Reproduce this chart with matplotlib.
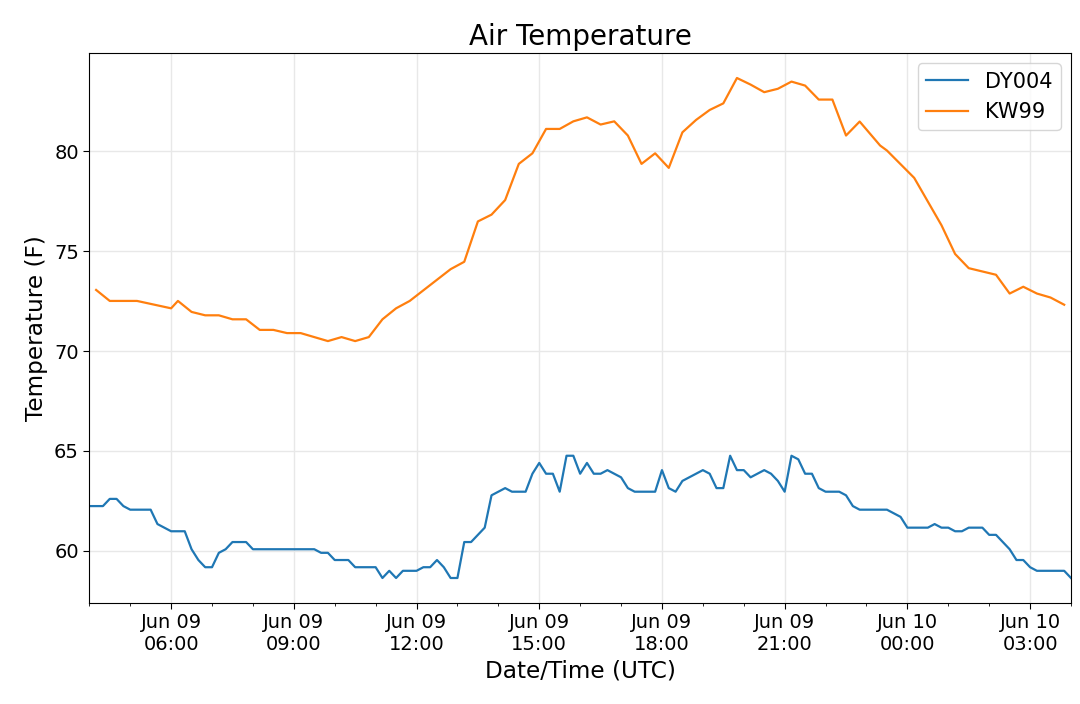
import matplotlib
matplotlib.use("Agg")
import matplotlib.pyplot as plt
import matplotlib.dates as mdates
import pandas as pd

# DY004: 10-minute samples from Jun 09 04:00 to Jun 10 04:00 (UTC)
dy_start = "2019-06-09 04:00"
dy_temps = [
    62.24, 62.24, 62.24, 62.60, 62.60, 62.24, 62.06, 62.06, 62.06, 62.06,
    61.34, 61.16, 60.98, 60.98, 60.98, 60.08, 59.54, 59.18, 59.18, 59.90,
    60.08, 60.44, 60.44, 60.44, 60.08, 60.08, 60.08, 60.08, 60.08, 60.08,
    60.08, 60.08, 60.08, 60.08, 59.90, 59.90, 59.54, 59.54, 59.54, 59.18,
    59.18, 59.18, 59.18, 58.64, 59.00, 58.64, 59.00, 59.00, 59.00, 59.18,
    59.18, 59.54, 59.18, 58.64, 58.64, 60.44, 60.44, 60.80, 61.16, 62.78,
    62.96, 63.14, 62.96, 62.96, 62.96, 63.86, 64.40, 63.86, 63.86, 62.96,
    64.76, 64.76, 63.86, 64.40, 63.86, 63.86, 64.04, 63.86, 63.68, 63.14,
    62.96, 62.96, 62.96, 62.96, 64.04, 63.14, 62.96, 63.50, 63.68, 63.86,
    64.04, 63.86, 63.14, 63.14, 64.76, 64.04, 64.04, 63.68, 63.86, 64.04,
    63.86, 63.50, 62.96, 64.76, 64.58, 63.86, 63.86, 63.14, 62.96, 62.96,
    62.96, 62.78, 62.24, 62.06, 62.06, 62.06, 62.06, 62.06, 61.88, 61.70,
    61.16, 61.16, 61.16, 61.16, 61.34, 61.16, 61.16, 60.98, 60.98, 61.16,
    61.16, 61.16, 60.80, 60.80, 60.44, 60.08, 59.54, 59.54, 59.18, 59.00,
    59.00, 59.00, 59.00, 59.00, 58.64,
]

# KW99: irregular observation times
kw_times = [
    "2019-06-09 04:10", "2019-06-09 04:30", "2019-06-09 04:50", "2019-06-09 05:10",
    "2019-06-09 06:00", "2019-06-09 06:10", "2019-06-09 06:30", "2019-06-09 06:50",
    "2019-06-09 07:10", "2019-06-09 07:30", "2019-06-09 07:50", "2019-06-09 08:10",
    "2019-06-09 08:30", "2019-06-09 08:50", "2019-06-09 09:10", "2019-06-09 09:50",
    "2019-06-09 10:10", "2019-06-09 10:30", "2019-06-09 10:50", "2019-06-09 11:10",
    "2019-06-09 11:30", "2019-06-09 11:50", "2019-06-09 12:50", "2019-06-09 13:10",
    "2019-06-09 13:30", "2019-06-09 13:50", "2019-06-09 14:10", "2019-06-09 14:30",
    "2019-06-09 14:50", "2019-06-09 15:10", "2019-06-09 15:30", "2019-06-09 15:50",
    "2019-06-09 16:10", "2019-06-09 16:30", "2019-06-09 16:50", "2019-06-09 17:10",
    "2019-06-09 17:30", "2019-06-09 17:50", "2019-06-09 18:10", "2019-06-09 18:30",
    "2019-06-09 18:50", "2019-06-09 19:10", "2019-06-09 19:30", "2019-06-09 19:50",
    "2019-06-09 20:10", "2019-06-09 20:30", "2019-06-09 20:50", "2019-06-09 21:10",
    "2019-06-09 21:30", "2019-06-09 21:50", "2019-06-09 22:10", "2019-06-09 22:30",
    "2019-06-09 22:50", "2019-06-09 23:20", "2019-06-09 23:30", "2019-06-10 00:10",
    "2019-06-10 00:50", "2019-06-10 01:10", "2019-06-10 01:30", "2019-06-10 02:10",
    "2019-06-10 02:30", "2019-06-10 02:50", "2019-06-10 03:10", "2019-06-10 03:30",
    "2019-06-10 03:50",
]
kw_temps = [
    73.06, 72.51, 72.51, 72.51,
    72.14, 72.51, 71.96, 71.79,
    71.79, 71.59, 71.59, 71.06,
    71.06, 70.90, 70.90, 70.50,
    70.70, 70.50, 70.70, 71.59,
    72.14, 72.51, 74.10, 74.47,
    76.49, 76.83, 77.56, 79.37,
    79.90, 81.12, 81.12, 81.50,
    81.70, 81.34, 81.50, 80.79,
    79.37, 79.90, 79.17, 80.95,
    81.57, 82.07, 82.40, 83.67,
    83.34, 82.96, 83.13, 83.49,
    83.29, 82.59, 82.59, 80.79,
    81.49, 80.29, 80.04, 78.67,
    76.30, 74.86, 74.15, 73.82,
    72.88, 73.22, 72.88, 72.68,
    72.32,
]

series_names = ["DY004", "KW99"]
title = "Air Temperature"
xlabel = "Date/Time (UTC)"
ylabel = "Temperature (F)"

dy_times = pd.date_range(dy_start, periods=len(dy_temps), freq="10min")
kw_dt = pd.to_datetime(kw_times)

fig = plt.figure(figsize=(10.8, 7.04), dpi=100)
ax = fig.add_axes([89.3 / 1080, 1 - 603 / 704, (1071 - 89.3) / 1080, (603 - 53) / 704])

ax.plot(dy_times, dy_temps, color="#1f77b4", lw=1.6, label=series_names[0])
ax.plot(kw_dt, kw_temps, color="#ff7f0e", lw=1.6, label=series_names[1])

ax.set_xlim(dy_times[0], dy_times[-1])
ax.xaxis.set_major_locator(mdates.HourLocator(byhour=range(0, 24, 3)))
ax.xaxis.set_minor_locator(mdates.HourLocator())
ax.xaxis.set_major_formatter(mdates.DateFormatter("%b %d\n%H:%M"))

ax.grid(True, which="major", color="#e8e8e8", lw=1.0)
ax.set_axisbelow(True)
ax.tick_params(axis="both", which="major", labelsize=14, length=4)
ax.tick_params(axis="x", which="minor", length=2.5)

ax.set_title(title, fontsize=20)
ax.set_xlabel(xlabel, fontsize=16.7)
ax.set_ylabel(ylabel, fontsize=16.7)
ax.legend(loc="upper right", fontsize=15)

fig.savefig("out.png", dpi=100)
